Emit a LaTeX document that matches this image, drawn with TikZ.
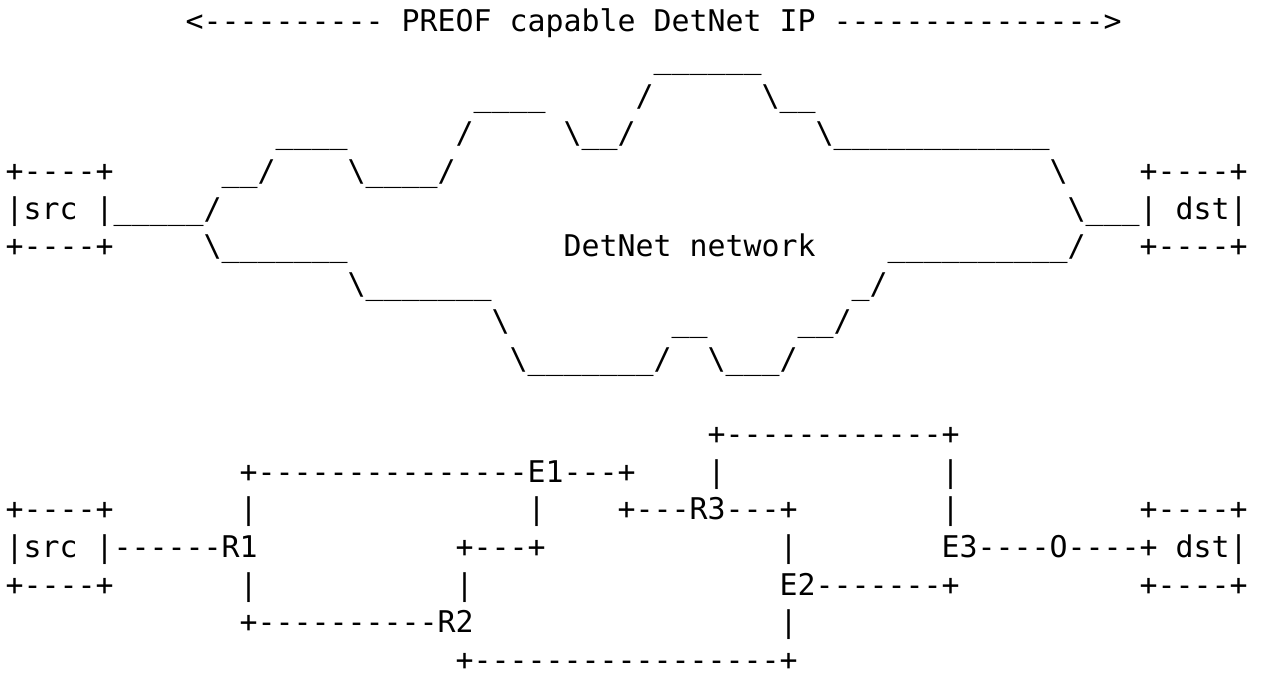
\documentclass[tikz,border=0pt]{standalone}
\usepackage{fontspec}
\setmonofont{DejaVu Sans Mono}
\newlength\cw
\settowidth\cw{\fontsize{22.4234pt}{37.6pt}\ttfamily x}
\newcommand\gap[1]{\hspace*{#1\cw}}
\newcommand\bs{\textbackslash}
\frenchspacing
\begin{document}
\begin{tikzpicture}[x=0.75pt,y=-0.75pt,
  asciirow/.style={anchor=base west,inner sep=0pt,outer sep=0pt,
    font=\ttfamily\fontsize{22.4234pt}{37.6pt}\selectfont,text=black}]
\useasboundingbox (0,0) rectangle (1261,672);
\fill[white] (0,0) rectangle (1261,672);
% top diagram: row r has its baseline at y = 31 + 37.6 r
\node[asciirow] (row0) at (5.7,31) {\gap{10}<---------- PREOF capable DetNet IP --------------->};
\node[asciirow] (row1) at (5.7,68.6) {\gap{36}\_\_\_\_\_\_};
\node[asciirow] (row2) at (5.7,106.2) {\gap{26}\_\_\_\_\gap{5}/\gap{6}\bs\_\_};
\node[asciirow] (row3) at (5.7,143.8) {\gap{15}\_\_\_\_\gap{6}/\gap{5}\bs\_\_/\gap{10}\bs\_\_\_\_\_\_\_\_\_\_\_\_};
\node[asciirow] (row4) at (5.7,181.4) {+----+\gap{6}\_\_/\gap{4}\bs\_\_\_\_/\gap{33}\bs\gap{4}+----+};
\node[asciirow] (row5) at (5.7,219) {|src |\_\_\_\_\_/\gap{47}\bs\_\_\_| dst|};
\node[asciirow] (row6) at (5.7,256.6) {+----+\gap{5}\bs\_\_\_\_\_\_\_\gap{12}DetNet network\gap{4}\_\_\_\_\_\_\_\_\_\_/\gap{3}+----+};
\node[asciirow] (row7) at (5.7,294.2) {\gap{19}\bs\_\_\_\_\_\_\_\gap{20}\_/};
\node[asciirow] (row8) at (5.7,331.8) {\gap{27}\bs\gap{9}\_\_\gap{5}\_\_/};
\node[asciirow] (row9) at (5.7,369.4) {\gap{28}\bs\_\_\_\_\_\_\_/\gap{2}\bs\_\_\_/};
% bottom diagram
\node[asciirow] (row11) at (5.7,444.6) {\gap{39}+------------+};
\node[asciirow] (row12) at (5.7,482.2) {\gap{13}+---------------E1---+\gap{4}|\gap{12}|};
\node[asciirow] (row13) at (5.7,519.8) {+----+\gap{7}|\gap{15}|\gap{4}+---R3---+\gap{8}|\gap{10}+----+};
\node[asciirow] (row14) at (5.7,557.4) {|src |------R1\gap{11}+---+\gap{13}|\gap{8}E3----O----+ dst|};
\node[asciirow] (row15) at (5.7,595) {+----+\gap{7}|\gap{11}|\gap{17}E2-------+\gap{10}+----+};
\node[asciirow] (row16) at (5.7,632.6) {\gap{13}+----------R2\gap{17}|};
\node[asciirow] (row17) at (5.7,670.2) {\gap{25}+-----------------+};
\end{tikzpicture}
\end{document}
